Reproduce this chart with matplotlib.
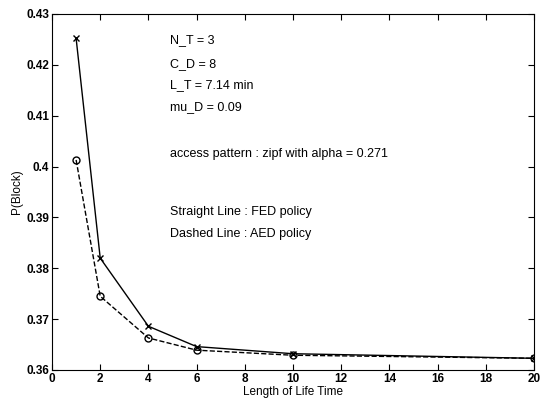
import matplotlib
matplotlib.use("Agg")
import matplotlib.pyplot as plt

plt.rcParams['font.family'] = ['Liberation Sans', 'DejaVu Sans']

life_time = [1, 2, 4, 6, 10, 20]
fed_block = [0.4252, 0.3820, 0.3686, 0.3646, 0.3632, 0.3623]
aed_block = [0.4013, 0.3745, 0.3663, 0.3639, 0.3629, 0.3623]

notes = [
    (4.9, 0.4249, "N_T = 3"),
    (4.9, 0.4201, "C_D = 8"),
    (4.9, 0.4160, "L_T = 7.14 min"),
    (4.9, 0.4116, "mu_D = 0.09"),
    (4.9, 0.4025, "access pattern : zipf with alpha = 0.271"),
    (4.9, 0.3910, "Straight Line : FED policy"),
    (4.9, 0.3867, "Dashed Line : AED policy"),
]

fig = plt.figure(figsize=(5.42, 4.0), dpi=100)
ax = fig.add_axes([0.096, 0.075, 0.889, 0.89])

ax.plot(life_time, fed_block, 'k-', marker='x', markersize=5, linewidth=1)
ax.plot(life_time, aed_block, 'k--', marker='o', markersize=5, markerfacecolor='none', linewidth=1)

for x, y, s in notes:
    ax.text(x, y, s, fontsize=9, va='center', ha='left')

ax.set_xlim(0, 20)
ax.set_ylim(0.36, 0.43)
ax.set_xticks(range(0, 21, 2))
ax.set_yticks([0.36, 0.37, 0.38, 0.39, 0.40, 0.41, 0.42, 0.43])
ax.set_yticklabels(['0.36', '0.37', '0.38', '0.39', '0.4', '0.41', '0.42', '0.43'])
ax.tick_params(direction='in', top=True, right=True, labelsize=8.5, length=4, pad=2)
for lab in ax.get_xticklabels() + ax.get_yticklabels():
    lab.set_fontweight('bold')
ax.set_xlabel('Length of Life Time', fontsize=8.5, labelpad=1)
ax.set_ylabel('P(Block)', fontsize=8.5, labelpad=2)

fig.savefig('out.png', dpi=100)
